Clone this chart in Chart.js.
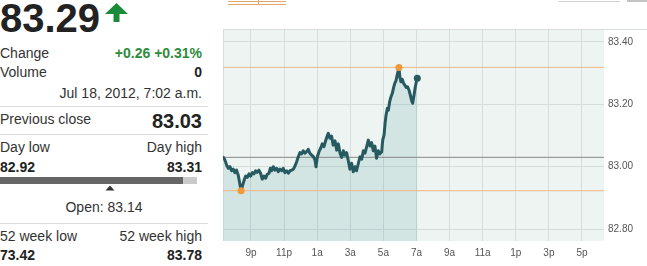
<!DOCTYPE html>
<html>
<head>
<meta charset="utf-8">
<script src="https://cdn.jsdelivr.net/npm/chart.js@4"></script>
<style>
  html, body { margin: 0; padding: 0; background: #fff; }
  body { width: 647px; height: 266px; position: relative; overflow: hidden;
         font-family: Arial, "Liberation Sans", sans-serif; color: #333; }
  .t { position: absolute; font-size: 14px; line-height: 14px; white-space: nowrap; }
  .l { left: 0; }
  .r { right: 445px; text-align: right; }
  .b { font-weight: bold; color: #222; }
  .up { color: #2e8b3a; }
  .hr { position: absolute; left: 0; width: 208px; height: 1px; background: #dcdcdc; }
  #chartBox { position: absolute; left: 215px; top: 0; width: 432px; height: 266px; }
</style>
</head>
<body>
  <!-- cut-off bits of the page above the quote -->
  <div style="position:absolute;left:228px;top:1px;width:58px;height:1px;background:#e3a668"></div>
  <div style="position:absolute;left:228px;top:4px;width:58px;height:1px;background:#e3a668"></div>
  <div style="position:absolute;left:258px;top:0;width:1px;height:4px;background:#e3a668"></div>
  <div style="position:absolute;left:558px;top:1px;width:62px;height:1px;background:#d0d0d0"></div>
  <div style="position:absolute;left:627px;top:0;width:20px;height:2px;background:#c4c4c4"></div>

  <div class="t l b" style="top:-2px;font-size:40px;line-height:40px;">83.29</div>
  <svg style="position:absolute;left:0;top:0" width="140" height="30">
    <polygon points="116.5,3 128,14 119.5,14 119.5,22 113.5,22 113.5,14 105,14" fill="#1b8a3b"/>
  </svg>

  <div class="t l" style="top:46px;">Change</div>
  <div class="t r b up" style="top:46px;color:#2e8b3a;">+0.26 +0.31%</div>
  <div class="t l" style="top:65px;">Volume</div>
  <div class="t r b" style="top:65px;">0</div>
  <div class="t r" style="top:86px;">Jul 18, 2012, 7:02 a.m.</div>
  <div class="hr" style="top:106px;"></div>

  <div class="t l" style="top:112px;">Previous close</div>
  <div class="t r b" style="top:111px;font-size:20px;line-height:20px;">83.03</div>
  <div class="hr" style="top:134px;"></div>

  <div class="t l" style="top:140px;">Day low</div>
  <div class="t r" style="top:140px;">Day high</div>
  <div class="t l b" style="top:160px;">82.92</div>
  <div class="t r b" style="top:160px;">83.31</div>
  <div style="position:absolute;left:0;top:177px;width:183px;height:7px;background:#666"></div>
  <div style="position:absolute;left:183px;top:177px;width:14px;height:7px;background:#cacaca"></div>
  <svg style="position:absolute;left:0;top:180px" width="130" height="14">
    <polygon points="110,5.5 114.5,10.5 105.5,10.5" fill="#333"/>
  </svg>
  <div class="t" style="left:0;width:208px;text-align:center;top:200px;">Open: 83.14</div>
  <div class="hr" style="top:223px;"></div>

  <div class="t l" style="top:229px;">52 week low</div>
  <div class="t r" style="top:229px;">52 week high</div>
  <div class="t l b" style="top:248px;">73.42</div>
  <div class="t r b" style="top:248px;">83.78</div>

  <div id="chartBox"><canvas id="quoteChart"></canvas></div>

<script>
// hours counted from 6 p.m. on Jul 17
const hours = [1.33,1.43,1.53,1.63,1.73,1.83,1.93,2.03,2.13,2.23,2.32,2.40,2.50,2.60,2.68,2.78,2.88,2.98,
  3.08,3.18,3.28,3.38,3.48,3.58,3.68,3.79,3.89,3.99,4.09,4.17,4.25,4.35,4.45,4.55,4.65,4.75,4.85,4.95,
  5.05,5.16,5.26,5.36,5.46,5.56,5.66,5.76,5.86,5.96,6.06,6.16,6.26,6.36,6.46,6.56,6.67,6.77,6.87,6.93,
  7.01,7.11,7.21,7.31,7.41,7.51,7.59,7.67,7.77,7.87,7.97,8.08,8.18,8.28,8.38,8.48,8.58,8.68,8.78,8.88,
  8.98,9.08,9.18,9.28,9.38,9.49,9.59,9.69,9.79,9.89,9.99,10.09,10.19,10.29,10.39,10.49,10.59,10.69,
  10.79,10.90,10.96,11.04,11.10,11.16,11.24,11.30,11.38,11.46,11.54,11.62,11.70,11.76,11.82,11.88,
  11.94,12.00,12.06,12.14,12.22,12.30,12.38,12.46,12.55,12.63,12.71,12.77,12.85,12.93,13.01,13.05];

const prices = [83.030,83.021,83.005,82.995,83.000,82.987,82.992,82.981,82.989,82.973,82.947,82.923,
  82.941,82.959,82.970,82.966,82.977,82.970,82.981,82.977,82.987,82.982,82.989,82.979,82.960,82.970,
  82.963,82.976,82.979,82.995,82.987,83.000,82.989,82.995,82.984,82.992,82.987,82.995,82.981,82.987,
  82.979,82.987,82.989,82.992,83.002,83.016,83.032,83.045,83.041,83.051,83.043,83.048,83.056,83.043,
  83.037,83.032,83.021,83.000,83.032,83.048,83.059,83.073,83.064,83.083,83.096,83.107,83.091,83.098,
  83.069,83.083,83.053,83.073,83.043,83.030,83.051,83.037,83.045,83.019,82.992,83.011,82.984,83.000,
  82.987,83.011,83.032,83.024,83.051,83.043,83.064,83.085,83.066,83.077,83.051,83.066,83.027,83.051,
  83.041,83.048,83.085,83.101,83.137,83.165,83.187,83.181,83.208,83.224,83.235,83.254,83.269,83.275,
  83.290,83.304,83.318,83.286,83.272,83.280,83.267,83.261,83.254,83.256,83.245,83.229,83.211,83.203,
  83.229,83.256,83.277,83.283];

const prevClose = 83.03;
const xTickHours = [3, 5, 7, 9, 11, 13, 15, 17, 19, 21, 23];
const xTickLabels = ['9p', '11p', '1a', '3a', '5a', '7a', '9a', '11a', '1p', '3p', '5p'];
const yTickValues = [82.80, 83.00, 83.20, 83.40];

const xMin = 1.31, xMax = 24.33;
const yMin = 82.762, yMax = 83.441;

const colors = {
  plotBg: '#eef4f1',
  fill: 'rgba(40, 145, 140, 0.14)',
  line: '#265a60',
  grid: '#d6dedb',
  orange: '#f0b783',
  dot: '#ee9a3a',
  prev: '#888888',
  tick: '#555555'
};

const points = hours.map((h, i) => ({ x: h, y: prices[i] }));
const lo = Math.min(...prices), hi = Math.max(...prices);
const iLo = prices.indexOf(lo), iHi = prices.indexOf(hi), iLast = prices.length - 1;

const flat = (v) => [{ x: xMin, y: v }, { x: xMax, y: v }];

const plotBackground = {
  id: 'plotBackground',
  beforeDraw(chart) {
    const { ctx, chartArea: a } = chart;
    ctx.save();
    ctx.fillStyle = colors.plotBg;
    ctx.fillRect(a.left, a.top, a.right - a.left, a.bottom - a.top);
    ctx.strokeStyle = colors.grid;
    ctx.lineWidth = 1;
    ctx.beginPath();
    ctx.moveTo(a.left, a.top + 0.5);
    ctx.lineTo(chart.width, a.top + 0.5);
    ctx.moveTo(a.left + 0.5, a.top);
    ctx.lineTo(a.left + 0.5, a.bottom);
    ctx.stroke();
    ctx.restore();
  }
};

const tickFont = { family: 'Arial, "Liberation Sans", sans-serif', size: 10 };

new Chart(document.getElementById('quoteChart').getContext('2d'), {
  type: 'line',
  data: {
    datasets: [
      {
        data: points,
        borderColor: colors.line,
        borderWidth: 3,
        borderJoinStyle: 'round',
        borderCapStyle: 'round',
        tension: 0,
        fill: false,
        order: 0,
        pointRadius: (c) => (c.dataIndex === iLo || c.dataIndex === iHi || c.dataIndex === iLast) ? 3.5 : 0,
        pointBackgroundColor: (c) => c.dataIndex === iLast ? colors.line : colors.dot,
        pointBorderWidth: 0
      },
      { data: flat(prevClose), borderColor: colors.prev, borderWidth: 1, pointRadius: 0, order: 1 },
      { data: flat(hi), borderColor: colors.orange, borderWidth: 1, pointRadius: 0, order: 1 },
      { data: flat(lo), borderColor: colors.orange, borderWidth: 1, pointRadius: 0, order: 1 },
      {
        data: points,
        borderWidth: 0,
        pointRadius: 0,
        backgroundColor: colors.fill,
        fill: 'start',
        order: 2
      }
    ]
  },
  options: {
    responsive: true,
    maintainAspectRatio: false,
    animation: false,
    layout: { padding: { left: 8, top: 29, right: 0, bottom: 0 } },
    plugins: { legend: { display: false }, tooltip: { enabled: false } },
    scales: {
      x: {
        type: 'linear',
        min: xMin,
        max: xMax,
        afterBuildTicks: (s) => { s.ticks = xTickHours.map(v => ({ value: v })); },
        afterFit: (s) => { s.height = 25; },
        grid: { color: colors.grid, drawTicks: false },
        border: { display: false },
        ticks: {
          padding: 6,
          color: colors.tick,
          font: tickFont,
          maxRotation: 0,
          callback: (v) => xTickLabels[xTickHours.indexOf(v)]
        }
      },
      y: {
        position: 'right',
        min: yMin,
        max: yMax,
        afterBuildTicks: (s) => { s.ticks = yTickValues.map(v => ({ value: v })); },
        afterFit: (s) => { s.width = 43; },
        grid: { color: colors.grid, drawTicks: false },
        border: { display: false },
        ticks: {
          padding: 4,
          color: colors.tick,
          font: tickFont,
          callback: (v) => v.toFixed(2)
        }
      }
    }
  },
  plugins: [plotBackground]
});
</script>
</body>
</html>
